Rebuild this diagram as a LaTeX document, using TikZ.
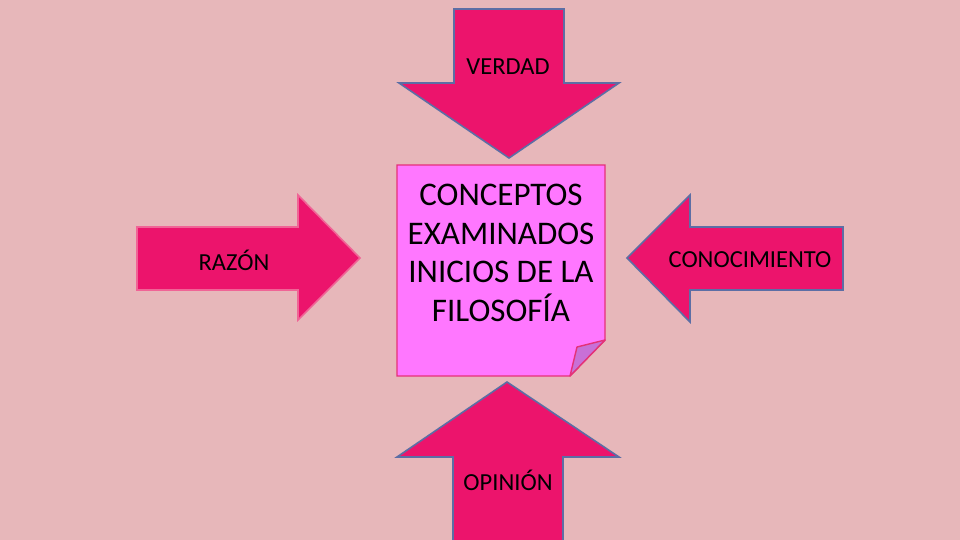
\documentclass[tikz,border=0pt]{standalone}
\usepackage{fontspec}
\setmainfont{Carlito}
\definecolor{bgpink}{RGB}{231,183,186}
\definecolor{arrowfill}{RGB}{236,20,108}
\definecolor{blueedge}{RGB}{92,110,165}
\definecolor{pinkedge}{RGB}{240,100,150}
\definecolor{boxfill}{RGB}{255,119,255}
\definecolor{boxedge}{RGB}{228,50,120}
\definecolor{foldfill}{RGB}{200,112,215}
\tikzset{
  bigarrow/.style={fill=arrowfill, draw=blueedge, line width=1.6pt, line join=miter},
  lbl/.style={font=\fontsize{24.5}{28}\selectfont, text=black, inner sep=0pt},
  centertxt/.style={font=\fontsize{33}{38.5}\selectfont, align=center, text=black, inner sep=0pt}
}
\begin{document}
\begin{tikzpicture}[x=1pt,y=-1pt]
\useasboundingbox (0,0) rectangle (960,540);
\fill[bgpink] (0,0) rectangle (960,540);
% VERDAD arrow (down)
\draw[bigarrow] (454,9) -- (564,9) -- (564,83) -- (619,83) -- (509,158) -- (399,83) -- (454,83) -- cycle;
\node[lbl] (verdad) at (508,67) {VERDAD};
% RAZON arrow (right)
\draw[bigarrow, draw=pinkedge] (137,227) -- (298,227) -- (298,195) -- (360,258) -- (298,320) -- (298,290) -- (137,290) -- cycle;
\node[lbl] (razon) at (234,260) {RAZÓN};
% CONOCIMIENTO arrow (left)
\draw[bigarrow] (843,227) -- (690,227) -- (690,195) -- (627,258) -- (690,322) -- (690,290) -- (843,290) -- cycle;
\node[lbl] (conoc) at (750,260) {CONOCIMIENTO};
% OPINION arrow (up)
\draw[bigarrow] (453,542) -- (453,457) -- (397,457) -- (507,382) -- (619,457) -- (563,457) -- (563,542) -- cycle;
\node[lbl] (opinion) at (508,480) {OPINIÓN};
% central note with folded corner
\draw[fill=boxfill, draw=boxedge, line width=1.4pt] (397,165) -- (605,165) -- (605,340) -- (570,376) -- (397,376) -- cycle;
\draw[fill=foldfill, draw=boxedge, line width=1.4pt, line join=round] (605,340) -- (577,347) -- (570,376) -- cycle;
\node[centertxt] (centro) at (501,253) {CONCEPTOS\\EXAMINADOS\\INICIOS DE LA\\FILOSOFÍA};
\end{tikzpicture}
\end{document}
